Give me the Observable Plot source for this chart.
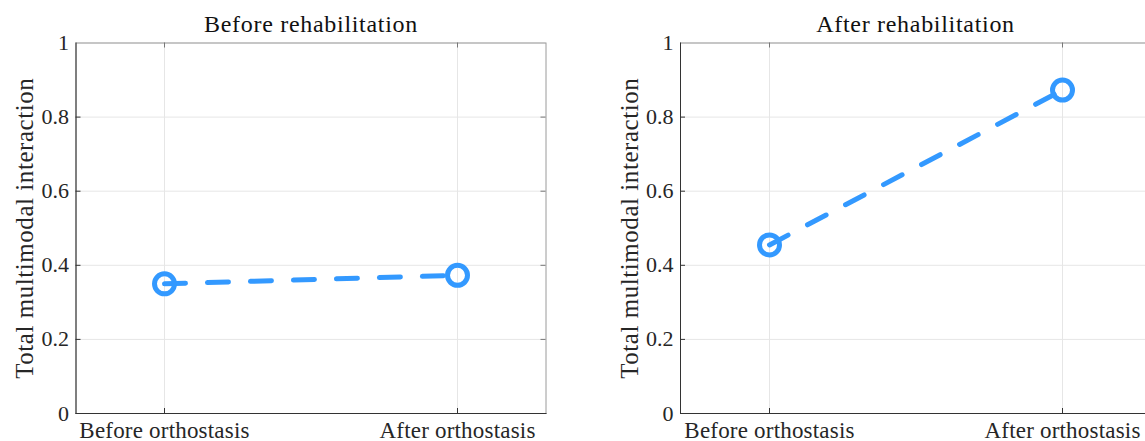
<!DOCTYPE html>
<html><head><meta charset="utf-8">
<script src="https://cdn.jsdelivr.net/npm/d3@7"></script>
<script src="https://cdn.jsdelivr.net/npm/@observablehq/plot@0.6"></script>
<style>
html,body{margin:0;padding:0;background:#fff;overflow:hidden;width:1145px;height:441px;}
#wrap{position:relative;width:1145px;height:441px;overflow:hidden;background:#fff;}
#wrap svg{position:absolute;top:0;}
#wrap svg, #wrap svg text{font-family:'Liberation Serif','Times New Roman',serif !important;}
#wrap svg g[aria-label="x-axis tick label"] text{letter-spacing:0.2px;}
</style></head><body><div id="wrap"></div>
<script>
const conditions = ["Before orthostasis", "After orthostasis"];
const panelTitles = ["Before rehabilitation", "After rehabilitation"];
const beforeRehab = [0.35, 0.373];
const afterRehab = [0.455, 0.873];
const yTicks = [0, 0.2, 0.4, 0.6, 0.8, 1];
const yTickLabels = ["0", "0.2", "0.4", "0.6", "0.8", "1"];
const yLabel = "Total multimodal interaction";

const FONT = "Liberation Serif";
const BLUE = "#3399ff";
const frameW = 470, frameH = 370.5;

function panel(values, title, marginLeft, width) {
  const data = conditions.map((c, i) => ({condition: c, value: values[i]}));
  return Plot.plot({
    width, height: 441,
    marginLeft, marginRight: width - marginLeft - frameW,
    marginTop: 42.5, marginBottom: 28,
    style: {fontFamily: FONT, background: "white", color: "#262626", overflow: "visible"},
    x: {type: "point", domain: conditions, padding: 0.3, label: null},
    y: {domain: [0, 1], label: null},
    marks: [
      Plot.gridX(conditions, {stroke: "#e6e6e6", strokeOpacity: 1}),
      Plot.gridY(yTicks, {stroke: "#e6e6e6", strokeOpacity: 1}),
      Plot.frame({stroke: "#9a9a9a"}),
      Plot.frame({anchor: "left", stroke: "#333"}),
      Plot.frame({anchor: "bottom", stroke: "#333"}),
      Plot.ruleY(yTicks.slice(1, -1), {insetRight: frameW - 5, stroke: "#333"}),
      Plot.ruleY(yTicks.slice(1, -1), {insetLeft: frameW - 5, stroke: "#777"}),
      Plot.ruleX(conditions, {insetTop: frameH - 5, stroke: "#333"}),
      Plot.ruleX(conditions, {insetBottom: frameH - 5, stroke: "#777"}),
      Plot.axisY(yTicks, {tickSize: 0, tickPadding: 7, fontSize: 22, label: null, fill: "#262626",
        tickFormat: d => yTickLabels[yTicks.indexOf(d)]}),
      Plot.axisX(conditions, {tickSize: 0, tickPadding: 8.5, fontSize: 23, label: null, fill: "#262626"}),
      Plot.text([yLabel], {frameAnchor: "left", textAnchor: "middle", rotate: -90, lineAnchor: "bottom", dx: -43,
        fontSize: 25, fill: "#262626", style: "letter-spacing:0.55px"}),
      Plot.text([title], {frameAnchor: "top", lineAnchor: "bottom", dy: -11.5,
        fontSize: 24, fill: "#111"}),
      Plot.line(data, {x: "condition", y: "value", stroke: BLUE, strokeWidth: 5,
        strokeDasharray: "21,22"}),
      Plot.dot(data, {x: "condition", y: "value", r: 10, stroke: BLUE, strokeWidth: 5, fill: "none"})
    ]
  });
}

const wrap = document.getElementById("wrap");
const p1 = panel(beforeRehab, panelTitles[0], 75.5, 565.5);
p1.style.left = "0px";
wrap.appendChild(p1);
const p2 = panel(afterRehab, panelTitles[1], 100, 590);
p2.style.left = "580px";
wrap.appendChild(p2);
// widen title and y-label lettering to approximate the reference's wider serif face
wrap.querySelectorAll("svg").forEach(svg => {
  svg.querySelectorAll("text").forEach(t => {
    if (panelTitles.includes(t.textContent)) t.style.letterSpacing = "0.7px";
    if (t.textContent === yLabel) t.style.letterSpacing = "0.55px";
  });
});
</script></body></html>
